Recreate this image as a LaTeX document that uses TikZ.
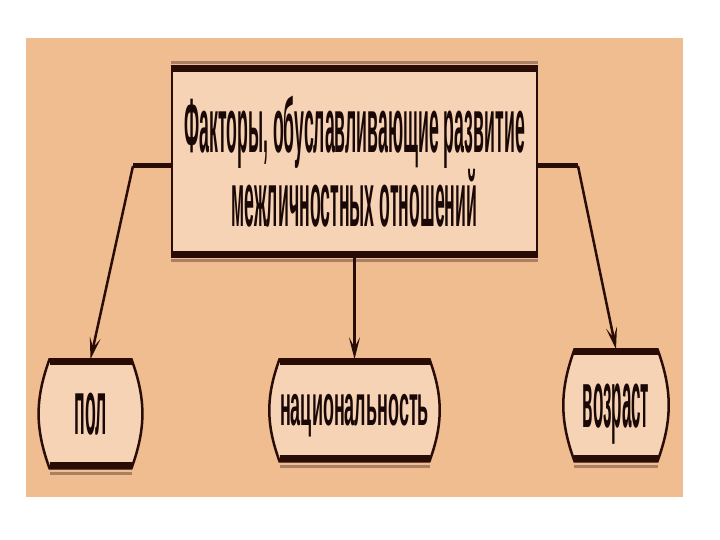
\documentclass[tikz,border=0pt]{standalone}
\usepackage{fontspec}
\newfontfamily\factfont[FakeStretch=0.23]{Liberation Sans}
\newfontfamily\natfont[FakeStretch=0.31]{Liberation Sans}
\newfontfamily\agefont[FakeStretch=0.21]{Liberation Sans}
\usepackage{tikz}
\usetikzlibrary{positioning,arrows.meta,backgrounds}
\definecolor{sheetbg}{RGB}{239,189,143}
\definecolor{boxfill}{RGB}{246,211,181}
\definecolor{boxline}{RGB}{42,12,6}
\definecolor{boxshade}{RGB}{170,128,100}
\definecolor{textdark}{RGB}{25,8,5}
\tikzset{
  mainbox/.style={draw=boxline, line width=2.5pt, fill=boxfill, text=textdark,
    minimum width=365pt, minimum height=187pt, align=center, inner sep=0pt},
  factbox/.style={rectangle, text=textdark, inner sep=0pt, outer sep=0pt, text depth=0pt},
  barrel/.style={draw=boxline, fill=boxfill, line width=2.5pt},
  capline/.style={boxline, line width=7pt},
  shadeline/.style={boxshade, line width=3pt},
  stubline/.style={boxline, line width=5pt},
  arrowline/.style={boxline, line width=2.5pt, -{Stealth[length=22pt,width=11pt,inset=10pt]}},
}

\begin{document}
\begin{tikzpicture}[x=1pt, y=-1pt, node distance=103pt]
  \useasboundingbox (0,0) rectangle (720,540);
  % main box
  \node[mainbox, font={\factfont\bfseries\fontsize{77}{70}\selectfont}] (main) at (354.5,161.5)
    {Факторы, обуславливающие развитие\\межличностных отношений};
  \draw[shadeline] ([yshift=4]main.north west) -- ([yshift=4]main.north east);
  \draw[capline] ([yshift=-2]main.north west) -- ([yshift=-2]main.north east);
  \draw[shadeline] ([yshift=-4]main.south west) -- ([yshift=-4]main.south east);
  \draw[capline] ([yshift=2]main.south west) -- ([yshift=2]main.south east);
  % factors
  \node[factbox, minimum width=168pt, minimum height=102pt, below=of main,
    font={\natfont\bfseries\fontsize{58}{60}\selectfont}] (nat) {национальность};
  \node[factbox, minimum width=100pt, minimum height=109pt, left=130pt of nat, yshift=-3.5pt,
    font={\factfont\bfseries\fontsize{77}{80}\selectfont}] (pol) {пол};
  \node[factbox, minimum width=101pt, minimum height=112pt, right=127pt of nat, yshift=5pt,
    font={\agefont\bfseries\fontsize{81}{84}\selectfont}] (vozr) {возраст};
  \begin{scope}[on background layer]
    \fill[white] (0,0) rectangle (720,540);
    \fill[sheetbg] (26,38) rectangle (683,497);
    \foreach \n in {pol,nat,vozr}
      \draw[barrel] ([xshift=9]\n.north west) -- ([xshift=-9]\n.north east)
        to[bend left=20] ([xshift=-9]\n.south east) -- ([xshift=9]\n.south west)
        to[bend left=20] cycle;
  \end{scope}
  \foreach \n/\w in {pol/41,nat/75,vozr/42} {
    \draw[shadeline] ([xshift=-\w, yshift=-5]\n.south) -- ([xshift=\w, yshift=-5]\n.south);
    \draw[capline] ([xshift=-\w, yshift=-2.5]\n.north) -- ([xshift=\w, yshift=-2.5]\n.north);
    \draw[capline] ([xshift=-\w, yshift=2.5]\n.south) -- ([xshift=\w, yshift=2.5]\n.south);
  }
  % connectors
  \coordinate (lbend) at (133,166);
  \coordinate (rbend) at (578,166);
  \draw[stubline] ([yshift=-4.5]main.west) -- (lbend);
  \draw[arrowline] (lbend) -- (pol.north);
  \draw[stubline] ([yshift=-4.5]main.east) -- (rbend);
  \draw[arrowline] (rbend) -- (vozr.north);
  \draw[arrowline] (main.south) -- (nat.north);
\end{tikzpicture}
\end{document}
